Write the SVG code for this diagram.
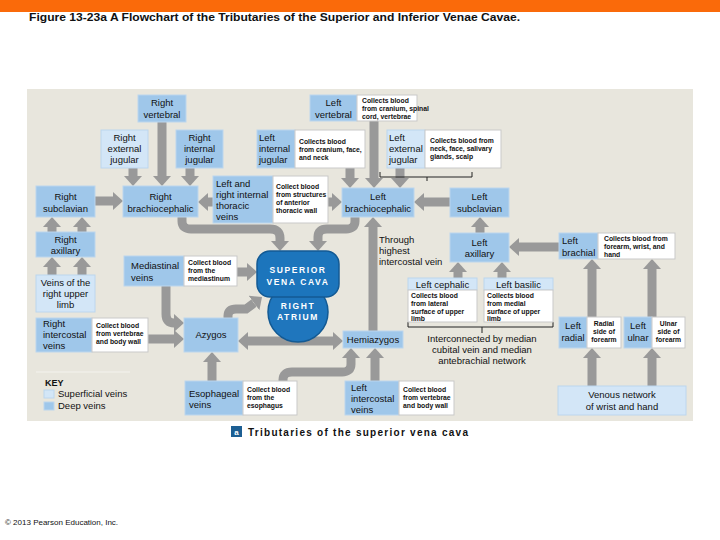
<svg xmlns="http://www.w3.org/2000/svg" width="720" height="540" viewBox="0 0 720 540">
<style>
text{font-family:"Liberation Sans",Arial,sans-serif;fill:#111}
.lb{font-size:9.5px}
.c{text-anchor:middle}
.d{font-size:6.8px;font-weight:bold}
.deep{fill:#9fc7ea;stroke:#bcd6ee;stroke-width:1}
.sup{fill:#d3e6f7;stroke:#bcd6ee;stroke-width:1}
.wh{fill:#fff;stroke:#c9c9c9;stroke-width:1}
.ar{fill:none;stroke:#999;stroke-width:9;marker-end:url(#ah)}
.dbl{marker-start:url(#ah)}
.br{fill:none;stroke:#222;stroke-width:1}
.sv{font-size:8.5px;font-weight:bold;fill:#fff;letter-spacing:1.6px;text-anchor:middle}
</style>
<defs>
<marker id="ah" viewBox="0 0 10 18" markerWidth="10" markerHeight="18" refX="0" refY="9" orient="auto-start-reverse" markerUnits="userSpaceOnUse">
<path d="M0,0 L10,9 L0,18 Z" fill="#999"/>
</marker>
</defs>
<rect x="0" y="0" width="720" height="540" fill="#fff"/>
<rect x="0" y="0" width="720" height="12" fill="#fa6a0a"/>
<text x="29" y="21" font-size="11.5" font-weight="bold" textLength="491" lengthAdjust="spacingAndGlyphs">Figure 13-23a  A Flowchart of the Tributaries of the Superior and Inferior Venae Cavae.</text>
<rect x="27" y="89" width="666" height="332" fill="#e8e6dd"/>

<g id="connectors">
<path class="ar" d="M162,122 V176"/>
<path class="ar" d="M133,168 V176"/>
<path class="ar" d="M190,168 V176"/>
<path class="ar" d="M95,201 H113"/>
<path class="ar" d="M213,202 H208"/>
<path class="ar" d="M328,202 H332"/>
<path class="ar" d="M182,217 V221 Q182,229 191,229 H270 Q280,229 280,238 V241"/>
<path class="ar" d="M355,217 V221 Q355,229 346,229 H327 Q318,229 318,237 V241"/>
<path class="ar" d="M374,121 V178"/>
<path class="ar" d="M350,168 V178"/>
<path class="ar" d="M400,168 V178"/>
<path class="ar" d="M450,202 H424"/>
<path class="ar" d="M480,233 V227"/>
<path class="ar" d="M458,278 V272"/>
<path class="ar" d="M502,278 V272"/>
<path class="ar" d="M559,247 H519"/>
<path class="ar" d="M592,317 V269"/>
<path class="ar" d="M652,317 V269"/>
<path class="ar" d="M592,386 V358"/>
<path class="ar" d="M652,386 V358"/>
<path class="ar" d="M373,331 V227"/>
<path class="ar dbl" d="M248,341 H333"/>
<path class="ar" d="M228,319 V316 Q228,309 236,309 H246 L254,303"/>
<path class="ar" d="M166,286 V314 Q166,323 174,323"/>
<path class="ar" d="M148,339 H174"/>
<path class="ar" d="M212,381 V362"/>
<path class="ar" d="M283,381 V380 Q283,372 292,372 H342 Q351,372 351,364 V358"/>
<path class="ar" d="M375,381 V358"/>
<path class="ar" d="M237,272 H247"/>
<path class="ar" d="M52,232 V227"/>
<path class="ar" d="M82,232 V227"/>
<path class="ar" d="M52,275 V267"/>
<path class="ar" d="M82,275 V267"/>
<path class="br" d="M380,172 V177 H472 V172 M427,177 V181"/>
<path class="br" d="M408,322 V327 H553 V322 M482,327 V333"/>
</g>

<g id="right-vertebral"><rect class="deep" x="138" y="95" width="48" height="27"/><text class="lb c" x="162" y="106">Right</text><text class="lb c" x="162" y="118">vertebral</text></g>
<g id="right-external-jugular"><rect class="sup" x="101" y="130" width="47" height="38"/><text class="lb c" x="124.5" y="141">Right</text><text class="lb c" x="124.5" y="152">external</text><text class="lb c" x="124.5" y="163">jugular</text></g>
<g id="right-internal-jugular"><rect class="deep" x="176" y="130" width="47" height="38"/><text class="lb c" x="199.5" y="141">Right</text><text class="lb c" x="199.5" y="152">internal</text><text class="lb c" x="199.5" y="163">jugular</text></g>
<g id="right-subclavian"><rect class="deep" x="36" y="186" width="59" height="31"/><text class="lb c" x="65.5" y="200">Right</text><text class="lb c" x="65.5" y="212">subclavian</text></g>
<g id="right-brachiocephalic"><rect class="deep" x="123" y="186" width="75" height="31"/><text class="lb c" x="160.5" y="200">Right</text><text class="lb c" x="160.5" y="212">brachiocephalic</text></g>
<g id="internal-thoracic"><rect class="deep" x="213" y="176" width="60" height="47"/><rect class="wh" x="273" y="176" width="55" height="47"/>
<text class="lb" x="216" y="187">Left and</text><text class="lb" x="216" y="198">right internal</text><text class="lb" x="216" y="209">thoracic</text><text class="lb" x="216" y="220">veins</text>
<text class="d" x="276" y="189">Collect blood</text><text class="d" x="276" y="197">from structures</text><text class="d" x="276" y="205">of anterior</text><text class="d" x="276" y="213">thoracic wall</text></g>
<g id="left-vertebral"><rect class="deep" x="310" y="95" width="47" height="26"/><rect class="wh" x="357" y="95" width="60" height="26"/>
<text class="lb c" x="333.5" y="106">Left</text><text class="lb c" x="333.5" y="118">vertebral</text>
<text class="d" x="362" y="103">Collects blood</text><text class="d" x="362" y="111">from cranium, spinal</text><text class="d" x="362" y="119">cord, vertebrae</text></g>
<g id="left-internal-jugular"><rect class="deep" x="257" y="130" width="38" height="38"/><rect class="wh" x="295" y="130" width="70" height="38"/>
<text class="lb" x="259" y="141">Left</text><text class="lb" x="259" y="152">internal</text><text class="lb" x="259" y="163">jugular</text>
<text class="d" x="299" y="144">Collects blood</text><text class="d" x="299" y="152">from cranium, face,</text><text class="d" x="299" y="160">and neck</text></g>
<g id="left-external-jugular"><rect class="sup" x="387" y="130" width="38" height="38"/><rect class="wh" x="425" y="130" width="76" height="38"/>
<text class="lb" x="389" y="141">Left</text><text class="lb" x="389" y="152">external</text><text class="lb" x="389" y="163">jugular</text>
<text class="d" x="430" y="143">Collects blood from</text><text class="d" x="430" y="151">neck, face, salivary</text><text class="d" x="430" y="159">glands, scalp</text></g>
<g id="left-brachiocephalic"><rect class="deep" x="342" y="188" width="72" height="29"/><text class="lb c" x="378" y="200">Left</text><text class="lb c" x="378" y="212">brachiocephalic</text></g>
<g id="left-subclavian"><rect class="deep" x="450" y="188" width="59" height="29"/><text class="lb c" x="479.5" y="200">Left</text><text class="lb c" x="479.5" y="212">subclavian</text></g>
<g id="left-axillary"><rect class="deep" x="450" y="233" width="59" height="29"/><text class="lb c" x="479.5" y="246">Left</text><text class="lb c" x="479.5" y="257">axillary</text></g>
<g id="through-highest"><text class="lb" x="379" y="243">Through</text><text class="lb" x="379" y="254">highest</text><text class="lb" x="379" y="265">intercostal vein</text></g>
<g id="left-cephalic"><rect class="sup" x="408" y="278" width="69" height="12"/><rect class="wh" x="408" y="290" width="69" height="32"/>
<text class="lb c" x="442.5" y="288">Left cephalic</text>
<text class="d" x="411" y="298">Collects blood</text><text class="d" x="411" y="306">from lateral</text><text class="d" x="411" y="314">surface of upper</text><text class="d" x="411" y="321">limb</text></g>
<g id="left-basilic"><rect class="sup" x="484" y="278" width="69" height="12"/><rect class="wh" x="484" y="290" width="69" height="32"/>
<text class="lb c" x="518.5" y="288">Left basilic</text>
<text class="d" x="487" y="298">Collects blood</text><text class="d" x="487" y="306">from medial</text><text class="d" x="487" y="314">surface of upper</text><text class="d" x="487" y="321">limb</text></g>
<g id="interconnected"><text class="lb c" x="482" y="342">Interconnected by median</text><text class="lb c" x="482" y="353">cubital vein and median</text><text class="lb c" x="482" y="364">antebrachial network</text></g>
<g id="left-brachial"><rect class="deep" x="559" y="233" width="39" height="26"/><rect class="wh" x="598" y="233" width="77" height="26"/>
<text class="lb" x="562" y="244">Left</text><text class="lb" x="562" y="256">brachial</text>
<text class="d" x="604" y="241">Collects blood from</text><text class="d" x="604" y="249">forearm, wrist, and</text><text class="d" x="604" y="257">hand</text></g>
<g id="left-radial"><rect class="deep" x="559" y="317" width="28" height="31"/><rect class="wh" x="587" y="317" width="34" height="31"/>
<text class="lb c" x="573" y="329">Left</text><text class="lb c" x="573" y="341">radial</text>
<text class="d c" x="604" y="326">Radial</text><text class="d c" x="604" y="334">side of</text><text class="d c" x="604" y="342">forearm</text></g>
<g id="left-ulnar"><rect class="deep" x="624" y="317" width="28" height="31"/><rect class="wh" x="652" y="317" width="33" height="31"/>
<text class="lb c" x="638" y="329">Left</text><text class="lb c" x="638" y="341">ulnar</text>
<text class="d c" x="668.5" y="326">Ulnar</text><text class="d c" x="668.5" y="334">side of</text><text class="d c" x="668.5" y="342">forearm</text></g>
<g id="venous-network"><rect class="sup" x="558" y="386" width="128" height="29"/><text class="lb c" x="622" y="398">Venous network</text><text class="lb c" x="622" y="410">of wrist and hand</text></g>
<g id="mediastinal"><rect class="deep" x="124" y="256" width="60" height="30"/><rect class="wh" x="184" y="256" width="53" height="30"/>
<text class="lb" x="131" y="269">Mediastinal</text><text class="lb" x="131" y="281">veins</text>
<text class="d" x="188" y="265">Collect blood</text><text class="d" x="188" y="273">from the</text><text class="d" x="188" y="281">mediastinum</text></g>
<g id="right-axillary"><rect class="deep" x="36" y="232" width="59" height="25"/><text class="lb c" x="65.5" y="243">Right</text><text class="lb c" x="65.5" y="254">axillary</text></g>
<g id="right-upper-limb"><rect class="sup" x="36" y="275" width="59" height="37"/><text class="lb c" x="65.5" y="286">Veins of the</text><text class="lb c" x="65.5" y="297">right upper</text><text class="lb c" x="65.5" y="308">limb</text></g>
<g id="right-intercostal"><rect class="deep" x="36" y="318" width="56" height="34"/><rect class="wh" x="92" y="318" width="56" height="34"/>
<text class="lb" x="43" y="327">Right</text><text class="lb" x="43" y="338">intercostal</text><text class="lb" x="43" y="349">veins</text>
<text class="d" x="96" y="328">Collect blood</text><text class="d" x="96" y="336">from vertebrae</text><text class="d" x="96" y="344">and body wall</text></g>
<g id="azygos"><rect class="deep" x="184" y="318" width="54" height="34"/><text class="lb c" x="211" y="338">Azygos</text></g>
<g id="esophageal"><rect class="deep" x="185" y="381" width="58" height="34"/><rect class="wh" x="243" y="381" width="54" height="34"/>
<text class="lb" x="189" y="397">Esophageal</text><text class="lb" x="189" y="408">veins</text>
<text class="d" x="247" y="392">Collect blood</text><text class="d" x="247" y="400">from the</text><text class="d" x="247" y="408">esophagus</text></g>
<g id="hemiazygos"><rect class="deep" x="343" y="331" width="60" height="17"/><text class="lb c" x="373" y="343">Hemiazygos</text></g>
<g id="left-intercostal"><rect class="deep" x="345" y="381" width="54" height="34"/><rect class="wh" x="399" y="381" width="55" height="34"/>
<text class="lb" x="351" y="391">Left</text><text class="lb" x="351" y="402">intercostal</text><text class="lb" x="351" y="413">veins</text>
<text class="d" x="403" y="392">Collect blood</text><text class="d" x="403" y="400">from vertebrae</text><text class="d" x="403" y="408">and body wall</text></g>
<g id="right-atrium"><circle cx="298" cy="312" r="30" fill="#1f76bd" stroke="#135a94" stroke-width="1.5"/><text class="sv" x="298" y="309">RIGHT</text><text class="sv" x="298" y="320">ATRIUM</text></g>
<g id="superior-vena-cava"><rect x="257" y="251" width="82" height="46" rx="13" fill="#1c75bc" stroke="#135a94" stroke-width="1.5"/><text class="sv" x="298" y="273">SUPERIOR</text><text class="sv" x="298" y="285">VENA CAVA</text></g>
<g id="key">
<line x1="36" y1="372" x2="130" y2="372" stroke="#f4f3ee" stroke-width="1"/>
<text x="45" y="386" font-size="9" font-weight="bold">KEY</text>
<rect class="sup" x="44" y="390" width="10" height="8"/><text class="lb" x="58" y="397">Superficial veins</text>
<rect class="deep" x="44" y="402" width="10" height="8"/><text class="lb" x="58" y="409">Deep veins</text>
</g>
<g id="caption">
<rect x="231" y="426" width="11" height="11" fill="#1d5f93"/>
<text x="236.5" y="435" font-size="8" font-weight="bold" fill="#fff" text-anchor="middle" style="fill:#fff">a</text>
<text x="248" y="436" font-size="10" font-weight="bold" textLength="220" lengthAdjust="spacing">Tributaries of the superior vena cava</text>
</g>
<text x="5" y="525" font-size="8">© 2013 Pearson Education, Inc.</text>
</svg>
